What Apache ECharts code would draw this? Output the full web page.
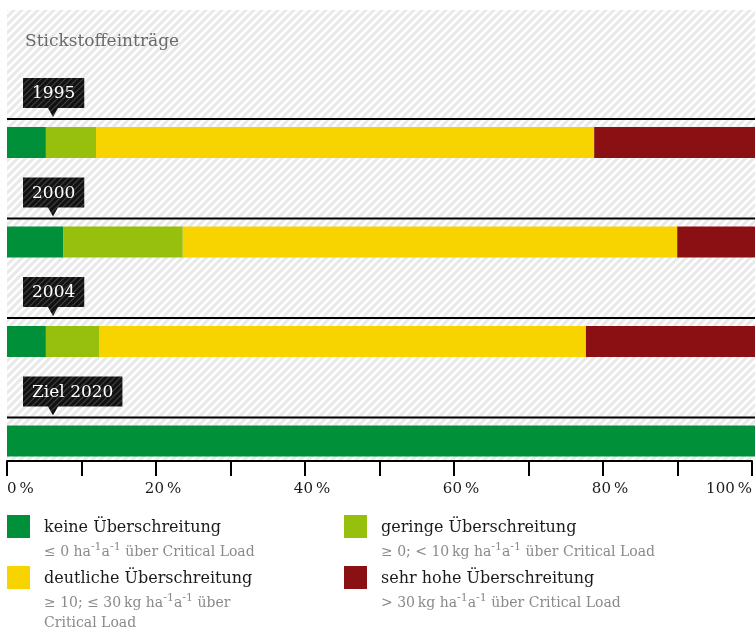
<!DOCTYPE html>
<html><head><meta charset="utf-8">
<script src="https://cdn.jsdelivr.net/npm/echarts@6/dist/echarts.min.js"></script>
<style>html,body{margin:0;padding:0;background:#fff}#c{width:755px;height:630px}</style>
</head><body><div id="c"></div>
<script>
// ---- data ----
const categories = ['1995', '2000', '2004', 'Ziel 2020'];
const seriesNames = ['keine Überschreitung', 'geringe Überschreitung', 'deutliche Überschreitung', 'sehr hohe Überschreitung'];
const keine = [5.2, 7.5, 5.2, 100];
const geringe = [6.7, 16.0, 7.1, 0];
const deutliche = [66.6, 66.1, 65.1, 0];
const sehrHohe = [21.5, 10.4, 22.6, 0];
const labelledTicks = [0, 20, 40, 60, 80, 100];
const titleText = 'Stickstoffeinträge';
const legendNotes = [
  '{s|≤ 0 ha}{p|-1}{s|a}{p|-1}{s| über Critical Load}',
  '{s|≥ 0; < 10\u2009kg ha}{p|-1}{s|a}{p|-1}{s| über Critical Load}',
  '{s|≥ 10; ≤ 30\u2009kg ha}{p|-1}{s|a}{p|-1}{s| über}\n{s|Critical Load}',
  '{s|> 30\u2009kg ha}{p|-1}{s|a}{p|-1}{s| über Critical Load}'
];
const colors = ['#00903a', '#97bf0d', '#f7d300', '#8b1014'];

// ---- helpers ----
const FONT = '"DejaVu Serif", serif';
function hatch(bg, fg, size, lw) {
  const c = document.createElement('canvas');
  c.width = c.height = size;
  const g = c.getContext('2d');
  g.fillStyle = bg; g.fillRect(0, 0, size, size);
  g.strokeStyle = fg; g.lineWidth = lw;
  g.beginPath();
  for (const k of [0, size, 2 * size]) { g.moveTo(-1, k + 1); g.lineTo(k + 1, -1); }
  g.stroke();
  return c;
}
const bgPattern = { image: hatch('#ffffff', '#e9e9e9', 8, 3.1), repeat: 'repeat' };
const boxPattern = { image: hatch('#111111', '#404040', 6, 1.2), repeat: 'repeat' };
const measureCtx = document.createElement('canvas').getContext('2d');
function textWidth(t, font) { measureCtx.font = font; return measureCtx.measureText(t).width; }

const chart = echarts.init(document.getElementById('c'), null, { renderer: 'canvas' });

const barSeries = [keine, geringe, deutliche, sehrHohe].map((d, i) => ({
  name: seriesNames[i], type: 'bar', stack: 'total', xAxisIndex: 0, yAxisIndex: 0,
  data: d, barWidth: 31, itemStyle: { color: colors[i] }, silent: true
}));

const labelSeries = {
  type: 'custom', xAxisIndex: 0, yAxisIndex: 0, silent: true, z: 3,
  data: categories.map((c, i) => [0, i]),
  renderItem: function (params, api) {
    const idx = api.value(1);
    const pt = api.coord([0, idx]);
    const cs = params.coordSys;
    const cy = pt[1];
    const lineY = cy - 23.5;
    const bot = lineY - 11, top = bot - 30, tip = lineY - 2;
    const bx = cs.x + 16;
    const font = '17px ' + FONT;
    const w = textWidth(categories[idx], font) + 18;
    const px = bx + 30;
    return {
      type: 'group',
      children: [
        { type: 'line', shape: { x1: cs.x, y1: lineY, x2: cs.x + cs.width, y2: lineY }, style: { stroke: '#000', lineWidth: 2 } },
        { type: 'polygon', shape: { points: [[bx, top], [bx + w, top], [bx + w, bot], [px + 5, bot], [px, tip], [px - 5, bot], [bx, bot]] }, style: { fill: boxPattern } },
        { type: 'text', style: { text: categories[idx], x: bx + w / 2, y: (top + bot) / 2 + 1, align: 'center', verticalAlign: 'middle', fill: '#fff', font: font } }
      ]
    };
  }
};

// legend as graphics built from series names / colours
const legendGraphics = [];
seriesNames.forEach((n, i) => {
  const col = i % 2, row = Math.floor(i / 2);
  const x = col === 0 ? 7 : 344;
  const y = 515 + row * 51;
  legendGraphics.push({ type: 'rect', shape: { x: x, y: y, width: 23, height: 23 }, style: { fill: colors[i] }, silent: true });
  legendGraphics.push({ type: 'text', style: { text: n, x: x + 37, y: y + 12.5, verticalAlign: 'middle', fill: '#1a1a1a', font: '16px ' + FONT }, silent: true });
  legendGraphics.push({ type: 'text', style: { text: legendNotes[i], x: x + 37, y: y + 27, verticalAlign: 'top', fill: '#8a8a8a', font: '14px ' + FONT,
    rich: {
      s: { fontSize: 14, lineHeight: 20, fontFamily: FONT, fill: '#8a8a8a', color: '#8a8a8a' },
      p: { fontSize: 11, lineHeight: 6, verticalAlign: 'top', fontFamily: FONT, fill: '#8a8a8a', color: '#8a8a8a' }
    } }, silent: true });
});

const option = {
  animation: false,
  backgroundColor: '#fff',
  title: { text: titleText, left: 20, top: 28, textStyle: { fontFamily: FONT, fontSize: 17, fontWeight: 'normal', color: '#6a6a6a' } },
  grid: [
    { left: 7, right: 0, top: 92.75, height: 398 },
    { left: 7, right: 2, top: 100, bottom: 169 }
  ],
  xAxis: [
    { gridIndex: 0, type: 'value', min: 0, max: 100, show: false },
    { gridIndex: 1, type: 'value', min: 0, max: 100, interval: 10,
      axisLine: { show: true, lineStyle: { color: '#000', width: 2 } },
      axisTick: { show: true, length: 15, lineStyle: { color: '#000', width: 2 } },
      splitLine: { show: false },
      axisLabel: {
        margin: 21, color: '#1a1a1a', fontFamily: FONT, fontSize: 15,
        alignMinLabel: 'left', alignMaxLabel: 'right',
        formatter: v => labelledTicks.includes(v) ? ((v === 0 || v === 100) ? '{a|' + v + '\u2009%}' : '{m|' + v + '\u2009%}') : '',
        rich: {
          a: { fontFamily: FONT, fontSize: 15, color: '#1a1a1a' },
          m: { fontFamily: FONT, fontSize: 15, color: '#1a1a1a', padding: [0, 0, 0, 14] }
        }
      } }
  ],
  yAxis: [
    { gridIndex: 0, type: 'category', inverse: true, data: categories, show: false },
    { gridIndex: 1, type: 'value', show: false }
  ],
  graphic: [
    { type: 'rect', z: -10, silent: true, shape: { x: 7, y: 10, width: 748, height: 450 }, style: { fill: bgPattern } }
  ].concat(legendGraphics),
  series: barSeries.concat([labelSeries])
};
chart.setOption(option);
</script>
</body></html>
